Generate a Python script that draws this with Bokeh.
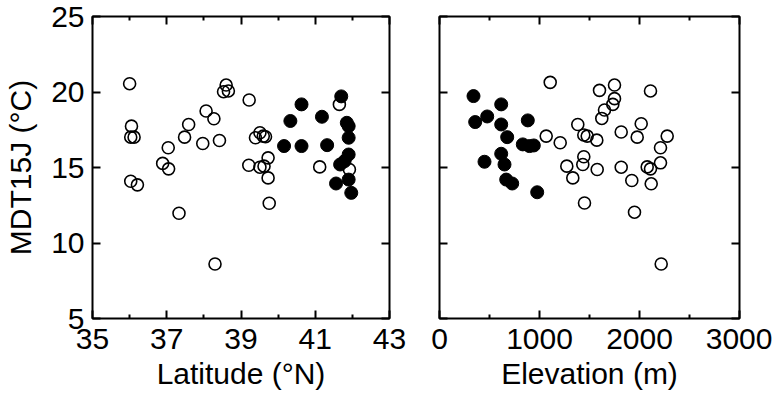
from bokeh.plotting import figure
from bokeh.layouts import row
from bokeh.models import FixedTicker, LinearAxis, Range1d, CustomJSTickFormatter
from bokeh.embed import file_html
from bokeh.resources import INLINE

# ---- data ----
lat_open = [36.00, 36.05, 36.03, 36.12, 36.03, 36.21, 36.89, 37.04, 37.05, 37.33,
            37.48, 37.59, 37.97, 38.06, 38.27, 38.30, 38.42, 38.60, 38.53, 38.66,
            39.22, 39.21, 39.39, 39.51, 39.51, 39.60, 39.66, 39.62, 39.73, 39.73,
            39.76, 41.12, 41.65, 41.92]
mdt_lat_open = [20.55, 17.74, 17.01, 17.01, 14.09, 13.85, 15.27, 16.31, 14.91, 11.97,
                17.01, 17.85, 16.59, 18.74, 18.23, 8.61, 16.79, 20.46, 20.02, 20.07,
                19.47, 15.15, 16.97, 17.30, 15.02, 17.08, 17.04, 15.09, 14.31, 15.64,
                12.63, 15.04, 19.18, 14.87]
lat_filled = [41.70, 40.63, 40.33, 41.18, 41.85, 41.90, 41.90, 40.16, 40.63, 41.32,
              41.90, 41.67, 41.79, 41.56, 41.90, 41.97]
mdt_lat_filled = [19.71, 19.18, 18.08, 18.36, 17.96, 17.74, 16.97, 16.42, 16.42, 16.48,
                  15.86, 15.20, 15.42, 13.94, 14.20, 13.32]

elev_open = [1107, 1067, 1207, 1383, 1443, 1477, 1573, 1273, 1333, 1443,
             1433, 1577, 1450, 1600, 1750, 1750, 1733, 1650, 1623, 1817,
             2017, 1977, 2110, 1817, 1923, 2077, 2110, 2117, 1950, 2210,
             2210, 2277, 2217]
mdt_elev_open = [20.64, 17.08, 16.64, 17.85, 17.15, 17.08, 16.81, 15.09, 14.31, 15.71,
                 15.20, 14.87, 12.65, 20.11, 20.46, 19.56, 19.18, 18.81, 18.25, 17.35,
                 17.90, 17.01, 20.07, 15.02, 14.14, 15.04, 14.91, 13.92, 12.04, 16.31,
                 15.31, 17.08, 8.61]
elev_filled = [340, 357, 477, 617, 617, 677, 450, 617, 650, 667, 727, 883, 833, 900, 943, 977]
mdt_elev_filled = [19.73, 18.01, 18.38, 19.18, 17.85, 17.01, 15.38, 15.91, 15.20, 14.20,
                   13.94, 18.12, 16.53, 16.42, 16.46, 13.36]

lat_ticks = [35, 37, 39, 41, 43]
lat_minor = [36, 38, 40, 42]
elev_ticks = [0, 1000, 2000, 3000]
elev_minor = [500, 1500, 2500]
y_ticks = [5, 10, 15, 20, 25]

FONT = "Liberation Sans"
FS = "30px"


def style_axis(ax, ticks, minor, labels=True):
    ax.ticker = FixedTicker(ticks=ticks, minor_ticks=minor)
    ax.major_tick_in = 8
    ax.major_tick_out = 0
    ax.minor_tick_in = 4
    ax.minor_tick_out = 0
    ax.major_tick_line_width = 2
    ax.minor_tick_line_width = 2
    ax.major_tick_line_color = "black"
    ax.minor_tick_line_color = "black"
    ax.axis_line_color = None
    ax.major_label_text_font = FONT
    ax.major_label_text_color = "black"
    ax.major_label_text_font_size = FS
    if labels:
        ax.major_label_standoff = 8
    else:
        ax.formatter = CustomJSTickFormatter(code="return ''")
        ax.major_label_standoff = 0
    ax.axis_label_text_font = FONT
    ax.axis_label_text_font_size = FS
    ax.axis_label_text_font_style = "normal"
    ax.axis_label_text_color = "black"


def make_fig(xr, xt, xm, xlabel, ylabel, show_ylabels, mb_left, mb_right):
    p = figure(frame_width=300, frame_height=302, x_range=xr, y_range=Range1d(5, 25),
               min_border_left=mb_left, min_border_right=mb_right,
               min_border_top=16, min_border_bottom=80,
               output_backend="svg", toolbar_location=None)
    p.grid.visible = False
    p.outline_line_color = "black"
    p.outline_line_width = 2
    p.background_fill_color = "white"
    p.border_fill_color = "white"
    style_axis(p.xaxis[0], xt, xm, True)
    p.xaxis[0].axis_label = xlabel
    p.xaxis[0].major_label_standoff = 10
    p.xaxis[0].axis_label_standoff = 5
    style_axis(p.yaxis[0], y_ticks, [], show_ylabels)
    if ylabel:
        p.yaxis[0].axis_label = ylabel
        p.yaxis[0].axis_label_standoff = 11
    top = LinearAxis()
    style_axis(top, xt, xm, False)
    p.add_layout(top, "above")
    right = LinearAxis()
    style_axis(right, y_ticks, [], False)
    p.add_layout(right, "right")
    return p


p1 = make_fig(Range1d(35, 43), lat_ticks, lat_minor, "Latitude (°N)", "MDT15J (°C)",
              True, 92, 20)
p1.frame_width = 297
p1.scatter(lat_open, mdt_lat_open, size=12, marker="circle", fill_color=None,
           line_color="black", line_width=1.6)
p1.scatter(lat_filled, mdt_lat_filled, size=13, marker="circle", fill_color="black",
           line_color="black", line_width=1)

p2 = make_fig(Range1d(0, 3000), elev_ticks, elev_minor, "Elevation (m)", None,
              False, 30, 33)
p2.scatter(elev_open, mdt_elev_open, size=12, marker="circle", fill_color=None,
           line_color="black", line_width=1.6)
p2.scatter(elev_filled, mdt_elev_filled, size=13, marker="circle", fill_color="black",
           line_color="black", line_width=1)

layout = row(p1, p2)
open("out.html", "w").write(file_html(layout, INLINE))
